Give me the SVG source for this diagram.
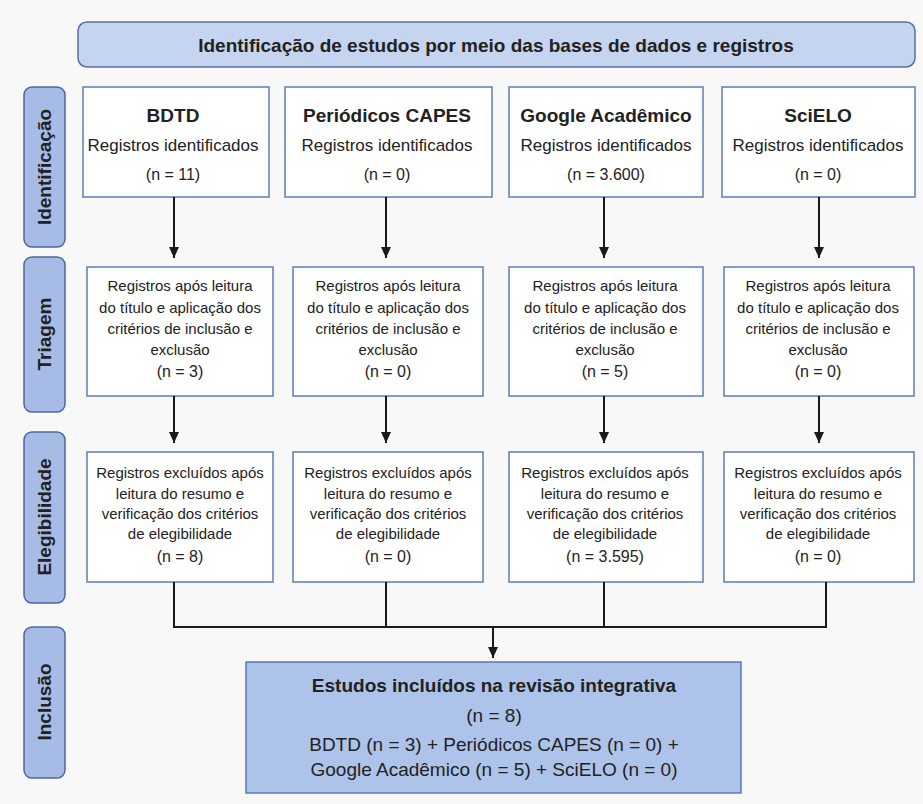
<svg xmlns="http://www.w3.org/2000/svg" width="923" height="804" viewBox="0 0 923 804">
<defs>
<style>
text{font-family:"Liberation Sans",Arial,sans-serif;fill:#222;text-anchor:middle}
.b{font-weight:bold}
.hdr{fill:#c5d4ef;stroke:#5470a3;stroke-width:1.5}
.lab{fill:#a6bce6;stroke:#4d6898;stroke-width:1.5}
.box{fill:#fff;stroke:#5e7cb2;stroke-width:1.5}
.fin{fill:#aec3ea;stroke:#5b79ad;stroke-width:1.5}
.ln{fill:none;stroke:#1a1a1a;stroke-width:2}
.t15{font-size:15px}
.t16{font-size:16px}
.t17{font-size:17px}
.t19{font-size:19px}
</style>
<marker id="ah" markerUnits="userSpaceOnUse" markerWidth="11" markerHeight="10" refX="11" refY="5" orient="auto">
<path d="M0,0 L11,5 L0,10 z" fill="#1a1a1a"/>
</marker>
</defs>
<rect width="923" height="804" fill="#f8f8f8"/>

<g id="header">
<rect class="hdr" x="78" y="22" width="837" height="45" rx="9"/>
<text class="b t19" x="496" y="52">Identificação de estudos por meio das bases de dados e registros</text>
</g>

<g id="lbl-identificacao">
<rect class="lab" x="24" y="87" width="41" height="160" rx="8"/>
<text class="b t19" transform="translate(51,167) rotate(-90)">Identificação</text>
</g>
<g id="lbl-triagem">
<rect class="lab" x="24" y="257" width="41" height="155" rx="8"/>
<text class="b t19" transform="translate(51,334) rotate(-90)">Triagem</text>
</g>
<g id="lbl-elegibilidade">
<rect class="lab" x="24" y="432" width="41" height="171" rx="8"/>
<text class="b t19" transform="translate(51,517) rotate(-90)">Elegibilidade</text>
</g>
<g id="lbl-inclusao">
<rect class="lab" x="24" y="627" width="41" height="151" rx="8"/>
<text class="b t19" transform="translate(51,702) rotate(-90)">Inclusão</text>
</g>

<g id="id-bdtd">
<rect class="box" x="83" y="87" width="186" height="110"/>
<text class="b t19" x="173" y="122">BDTD</text>
<text class="t17" x="173" y="151">Registros identificados</text>
<text class="t16" x="173" y="180">(n = 11)</text>
</g>
<g id="id-capes">
<rect class="box" x="285" y="87" width="207" height="110"/>
<text class="b t19" x="387" y="122">Periódicos CAPES</text>
<text class="t17" x="387" y="151">Registros identificados</text>
<text class="t16" x="387" y="180">(n = 0)</text>
</g>
<g id="id-google">
<rect class="box" x="509" y="87" width="194" height="110"/>
<text class="b t19" x="606" y="122">Google Acadêmico</text>
<text class="t17" x="606" y="151">Registros identificados</text>
<text class="t16" x="606" y="180">(n = 3.600)</text>
</g>
<g id="id-scielo">
<rect class="box" x="722" y="87" width="193" height="110"/>
<text class="b t19" x="818" y="122">SciELO</text>
<text class="t17" x="818" y="151">Registros identificados</text>
<text class="t16" x="818" y="180">(n = 0)</text>
</g>

<g id="tr-bdtd">
<rect class="box" x="87" y="267" width="186" height="129"/>
<text class="t15" x="180" y="291">Registros após leitura</text>
<text class="t15" x="180" y="313">do título e aplicação dos</text>
<text class="t15" x="180" y="334">critérios de inclusão e</text>
<text class="t15" x="180" y="355">exclusão</text>
<text class="t16" x="180" y="377">(n = 3)</text>
</g>
<g id="tr-capes">
<rect class="box" x="293" y="267" width="190" height="129"/>
<text class="t15" x="388" y="291">Registros após leitura</text>
<text class="t15" x="388" y="313">do título e aplicação dos</text>
<text class="t15" x="388" y="334">critérios de inclusão e</text>
<text class="t15" x="388" y="355">exclusão</text>
<text class="t16" x="388" y="377">(n = 0)</text>
</g>
<g id="tr-google">
<rect class="box" x="509" y="267" width="194" height="129"/>
<text class="t15" x="605" y="291">Registros após leitura</text>
<text class="t15" x="605" y="313">do título e aplicação dos</text>
<text class="t15" x="605" y="334">critérios de inclusão e</text>
<text class="t15" x="605" y="355">exclusão</text>
<text class="t16" x="605" y="377">(n = 5)</text>
</g>
<g id="tr-scielo">
<rect class="box" x="724" y="267" width="190" height="129"/>
<text class="t15" x="818" y="291">Registros após leitura</text>
<text class="t15" x="818" y="313">do título e aplicação dos</text>
<text class="t15" x="818" y="334">critérios de inclusão e</text>
<text class="t15" x="818" y="355">exclusão</text>
<text class="t16" x="818" y="377">(n = 0)</text>
</g>

<g id="el-bdtd">
<rect class="box" x="87" y="452" width="186" height="130"/>
<text class="t15" x="180" y="478">Registros excluídos após</text>
<text class="t15" x="180" y="499">leitura do resumo e</text>
<text class="t15" x="180" y="519">verificação dos critérios</text>
<text class="t15" x="180" y="539">de elegibilidade</text>
<text class="t16" x="180" y="562">(n = 8)</text>
</g>
<g id="el-capes">
<rect class="box" x="293" y="452" width="190" height="130"/>
<text class="t15" x="388" y="478">Registros excluídos após</text>
<text class="t15" x="388" y="499">leitura do resumo e</text>
<text class="t15" x="388" y="519">verificação dos critérios</text>
<text class="t15" x="388" y="539">de elegibilidade</text>
<text class="t16" x="388" y="562">(n = 0)</text>
</g>
<g id="el-google">
<rect class="box" x="509" y="452" width="194" height="130"/>
<text class="t15" x="605" y="478">Registros excluídos após</text>
<text class="t15" x="605" y="499">leitura do resumo e</text>
<text class="t15" x="605" y="519">verificação dos critérios</text>
<text class="t15" x="605" y="539">de elegibilidade</text>
<text class="t16" x="605" y="562">(n = 3.595)</text>
</g>
<g id="el-scielo">
<rect class="box" x="724" y="452" width="190" height="130"/>
<text class="t15" x="818" y="478">Registros excluídos após</text>
<text class="t15" x="818" y="499">leitura do resumo e</text>
<text class="t15" x="818" y="519">verificação dos critérios</text>
<text class="t15" x="818" y="539">de elegibilidade</text>
<text class="t16" x="818" y="562">(n = 0)</text>
</g>

<g id="included">
<rect class="fin" x="246" y="662" width="495" height="131"/>
<text class="b t19" x="494" y="692">Estudos incluídos na revisão integrativa</text>
<text class="t19" x="494" y="722">(n = 8)</text>
<text class="t19" x="494" y="751">BDTD (n = 3) + Periódicos CAPES (n = 0) +</text>
<text class="t19" x="494" y="776">Google Acadêmico (n = 5) + SciELO (n = 0)</text>
</g>

<g id="connectors">
<line class="ln" x1="174" y1="197" x2="174" y2="258" marker-end="url(#ah)"/>
<line class="ln" x1="386" y1="197" x2="386" y2="258" marker-end="url(#ah)"/>
<line class="ln" x1="604" y1="197" x2="604" y2="258" marker-end="url(#ah)"/>
<line class="ln" x1="819" y1="197" x2="819" y2="258" marker-end="url(#ah)"/>
<line class="ln" x1="174" y1="396" x2="174" y2="443" marker-end="url(#ah)"/>
<line class="ln" x1="386" y1="396" x2="386" y2="443" marker-end="url(#ah)"/>
<line class="ln" x1="604" y1="396" x2="604" y2="443" marker-end="url(#ah)"/>
<line class="ln" x1="819" y1="396" x2="819" y2="443" marker-end="url(#ah)"/>
<path class="ln" d="M174,582 V627 H826 V582 M386,582 V627 M604,582 V627"/>
<line class="ln" x1="493" y1="627" x2="493" y2="658" marker-end="url(#ah)"/>
</g>
</svg>
